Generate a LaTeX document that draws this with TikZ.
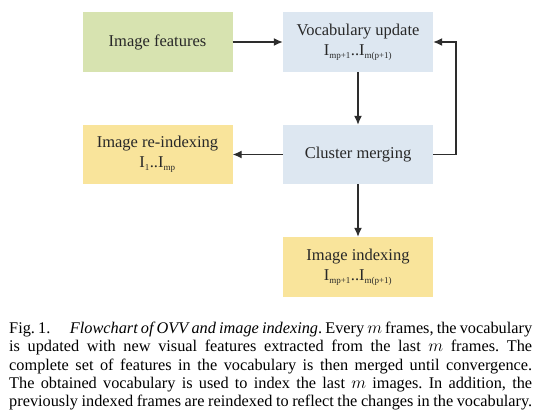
\documentclass[tikz,border=0pt]{standalone}
\usepackage{fontspec}
\setmainfont{Liberation Serif}
\usetikzlibrary{arrows.meta}
\definecolor{boxgreen}{RGB}{215,227,176}
\definecolor{boxblue}{RGB}{221,231,241}
\definecolor{boxyellow}{RGB}{249,228,155}
\definecolor{linegray}{RGB}{45,45,45}
\definecolor{txtgray}{RGB}{40,40,40}
\tikzset{
  flowbox/.style={minimum width=150pt, minimum height=60pt, inner sep=0pt, align=center,
    text=txtgray, font=\fontsize{16.5pt}{20pt}\selectfont},
  flowarrow/.style={draw=linegray, line width=1.3pt, -{Latex[length=9pt,width=8pt]}},
}
\newcommand{\mysub}[1]{\textsubscript{\fontsize{9pt}{9pt}\selectfont #1}}
\frenchspacing
\begin{document}
\begin{tikzpicture}[x=1pt,y=-1pt]
\useasboundingbox (0,0) rectangle (539,418);
\node[flowbox, fill=boxgreen] (feat) at (157.5,42) {Image features};
\node[flowbox, fill=boxblue] (vocab) at (358,42) {Vocabulary update\\I\mysub{mp+1}..I\mysub{m(p+1)}};
\node[flowbox, fill=boxblue, minimum height=59pt] (cluster) at (358,154.5) {Cluster merging};
\node[flowbox, fill=boxyellow, minimum height=59pt] (reidx) at (157.5,154.5) {Image re-indexing\\I\mysub{1}..I\mysub{mp}};
\node[flowbox, fill=boxyellow] (idx) at (358,267) {Image indexing\\I\mysub{mp+1}..I\mysub{m(p+1)}};
\coordinate (fbtop) at (456,42);
\coordinate (fbbot) at (456,154.5);
\draw[flowarrow] (feat) -- (vocab);
\draw[flowarrow] (vocab) -- (cluster);
\draw[flowarrow] (cluster) -- (reidx);
\draw[flowarrow] (cluster) -- (idx);
\draw[flowarrow] (cluster.east) -- (fbbot) -- (fbtop) -- (vocab.east);
\node[anchor=north west, inner sep=0pt, text width=523pt, align=justify,
      font=\fontsize{16.3pt}{18.3pt}\selectfont, text=black] (cap) at (9,322)
 {Fig.~1.\hspace{1.2em}\textit{Flowchart of OVV and image indexing}. Every $m$ frames, the vocabulary\linebreak
 is updated with new visual features extracted from the last $m$ frames. The\linebreak
 complete set of features in the vocabulary is then merged until convergence.\linebreak
 The obtained vocabulary is used to index the last $m$ images. In addition, the\linebreak
 previously indexed frames are reindexed to reflect the changes in the vocabulary.};
\end{tikzpicture}
\end{document}
